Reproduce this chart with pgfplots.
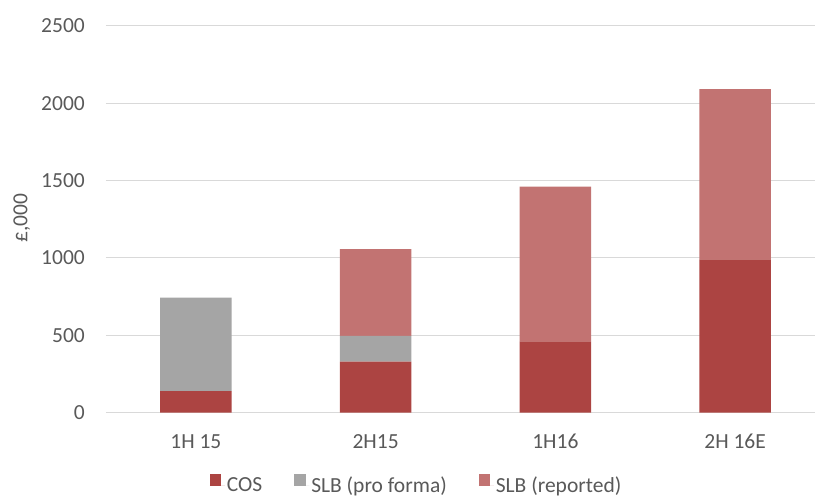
\documentclass[border=0pt]{standalone}
\usepackage{fontspec}
\setmainfont{Carlito}
\usepackage{pgfplots}
\pgfplotsset{compat=1.18}
\definecolor{cos}{HTML}{AC4442}
\definecolor{pf}{HTML}{A5A5A5}
\definecolor{rep}{HTML}{C27372}
\definecolor{txt}{HTML}{595959}
\definecolor{gridc}{HTML}{D9D9D9}
\begin{document}
\begin{tikzpicture}
\path[use as bounding box] (0pt,0pt) rectangle (815pt,499pt);
\begin{axis}[
  at={(106pt,86.3pt)}, anchor=south west,
  scale only axis, width=719pt, height=387pt,
  ybar stacked, bar width=71.6pt,
  xmin=-0.5, xmax=3.5, ymin=0, ymax=2500,
  xtick={0,1,2,3}, xticklabels={1H 15,2H15,1H16,2H 16E},
  ytick={0,500,1000,1500,2000,2500},
  ymajorgrids, grid style={gridc, line width=0.9pt},
  axis line style={draw=none}, tick style={draw=none},
  /pgf/number format/assume math mode=true,
  /pgf/number format/1000 sep={},
  ticklabel style={font=\fontsize{21.5}{25}\selectfont, text=txt},
  yticklabel style={anchor=east, inner sep=0pt, xshift=-21pt},
  xticklabel style={anchor=center, inner sep=0pt, yshift=-29pt},
  ylabel={£,000},
  ylabel style={at={(axis description cs:-0.117,0.503)}, anchor=center, font=\fontsize{21.5}{25}\selectfont, text=txt},
  legend style={at={(axis description cs:0.432,-0.187)}, anchor=center, draw=none, fill=none,
    legend columns=-1, font=\fontsize{21.5}{25}\selectfont, text=txt,
    /tikz/every even column/.append style={column sep=30pt}},
  legend image code/.code={\fill[#1] (0pt,0pt) rectangle (11.5pt,11.5pt);\path (0pt,0pt) -- (15pt,0pt);},
]
\addplot[fill=cos, draw=none] coordinates {(0,140) (1,330) (2,460) (3,990)};
\addplot[fill=pf, draw=none] coordinates {(0,603) (1,167) (2,0) (3,0)};
\addplot[fill=rep, draw=none] coordinates {(0,0) (1,560) (2,1000) (3,1100)};
\legend{COS, SLB (pro forma), SLB (reported)}
\end{axis}
\end{tikzpicture}
\end{document}
